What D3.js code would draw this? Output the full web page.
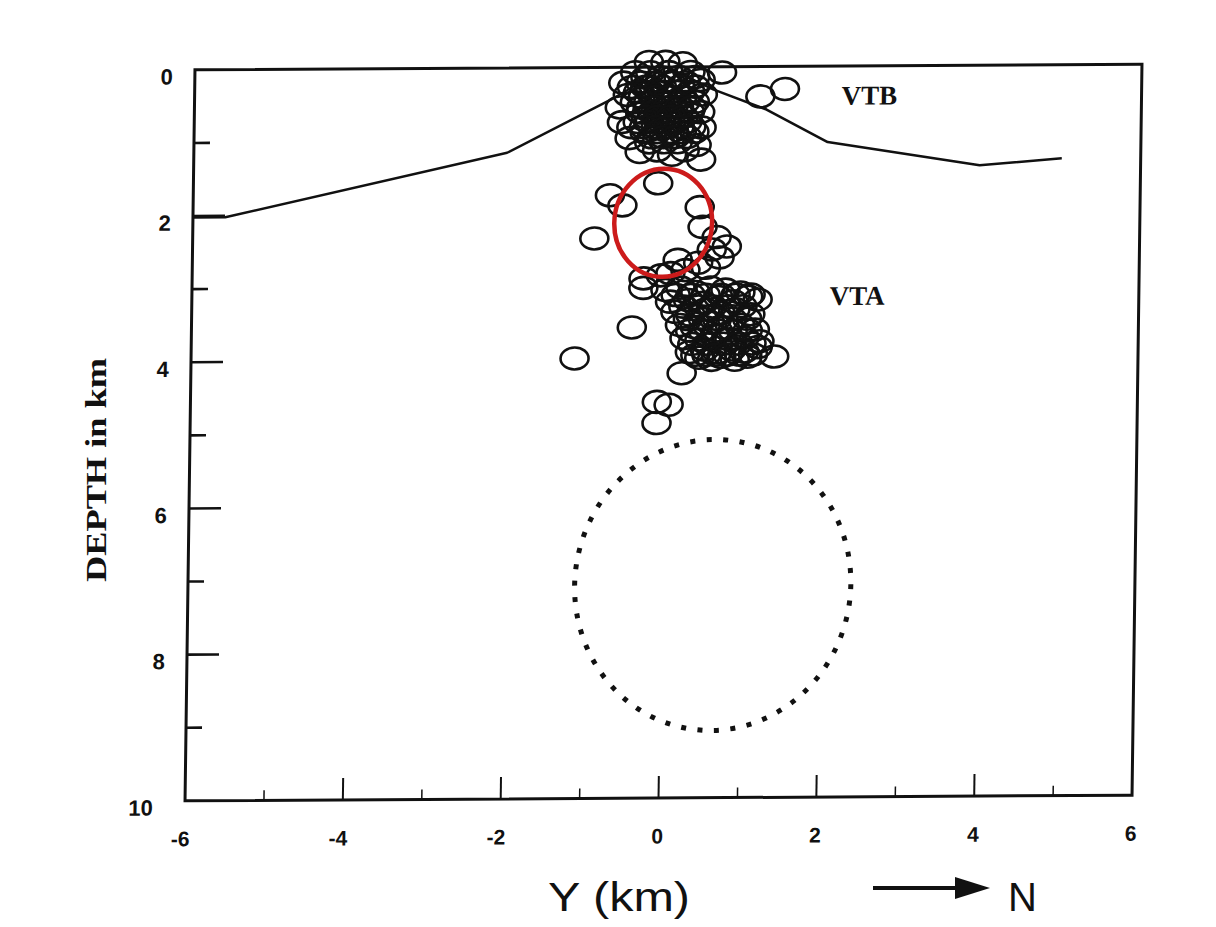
<!DOCTYPE html>
<html>
<head>
<meta charset="utf-8">
<script src="https://cdn.jsdelivr.net/npm/d3@7"></script>
<style>
  html, body { margin: 0; padding: 0; background: #ffffff; }
  svg { display: block; }
</style>
</head>
<body>
<svg id="chart" width="1216" height="927"></svg>
<script>
// ---------- data ----------
// Earthquake hypocentres: horizontal position Y (km) and depth (km)
const eventY = [
  // VTB cluster (shallow)
  -0.04,-0.25,0.18,-0.57,-0.61,-0.58,-0.35,0.06,0.37,0.43,0.41,0.44,0.41,0.68,1.17,1.48,
  -0.42,-0.51,0.43,-0.48,-0.13,0.22,
  -0.23,0.00,0.28,
  -0.35,-0.16,0.03,0.22,
  -0.38,-0.23,-0.08,0.09,0.28,
  -0.42,-0.25,-0.10,0.05,0.22,0.34,
  -0.35,-0.20,-0.04,0.13,0.28,
  -0.38,-0.23,-0.08,0.09,0.25,
  -0.29,-0.13,0.03,0.18,0.34,
  -0.23,-0.04,0.13,
  -0.29,-0.10,0.13,0.34,
  -0.46,-0.29,-0.08,0.15,0.34,
  -0.32,-0.15,0.00,0.18,
  -0.34,-0.16,-0.01,0.14,0.30,
  -0.28,-0.13,0.04,0.20,
  -0.46,-0.30,-0.15,0.00,0.15,0.30,
  -0.20,-0.05,0.10,0.25,
  // between clusters
  -0.11,-0.72,-0.56,-0.91,0.42,0.46,0.64,0.77,0.58,0.68,0.41,0.15,
  // VTA cluster (deeper)
  0.06,0.25,0.51,-0.06,-0.28,-0.28,
  0.00,0.19,0.38,0.57,0.76,0.95,
  0.06,0.29,0.48,0.67,0.86,1.05,1.17,
  0.13,0.32,0.51,0.70,0.89,1.08,
  0.19,0.38,0.57,0.76,0.95,1.14,
  0.25,0.44,0.63,0.82,1.01,1.20,
  0.32,0.51,0.67,0.85,1.01,1.18,
  0.44,0.60,0.72,0.89,1.05,
  0.13,0.32,0.51,0.70,0.89,1.08,
  0.23,0.42,0.60,0.79,0.98,
  0.29,0.48,0.66,0.85,1.04,
  0.32,0.48,0.67,0.86,1.05,
  0.35,0.54,0.74,0.93,1.10,
  0.39,0.53,0.65,0.80,0.95,1.12,
  -0.42,-1.14,1.39,0.22,
  -0.09,0.06,-0.09
];
const eventDepth = [
  -0.07,-0.07,-0.05,0.21,0.55,0.75,1.16,1.20,1.07,1.27,0.18,0.38,0.62,0.08,0.41,0.31,
  0.07,0.38,0.83,0.97,1.14,1.14,
  0.07,0.07,0.07,
  0.21,0.21,0.21,0.21,
  0.34,0.34,0.34,0.34,0.34,
  0.48,0.48,0.48,0.48,0.48,0.48,
  0.62,0.62,0.62,0.62,0.62,
  0.75,0.75,0.75,0.75,0.75,
  0.89,0.89,0.89,0.89,0.89,
  1.03,1.03,1.03,
  0.14,0.14,0.14,0.14,
  0.27,0.27,0.27,0.27,0.27,
  0.41,0.41,0.41,0.41,
  0.55,0.55,0.55,0.55,0.55,
  0.68,0.68,0.68,0.68,
  0.82,0.82,0.82,0.82,0.82,0.82,
  0.96,0.96,0.96,0.96,
  1.59,1.75,1.89,2.34,1.92,2.19,2.33,2.46,2.50,2.61,2.68,2.64,
  2.82,2.78,2.75,2.85,2.89,3.02,
  3.05,3.02,3.08,3.02,3.05,3.09,
  3.21,3.19,3.23,3.15,3.21,3.15,3.19,
  3.35,3.39,3.32,3.37,3.32,3.39,
  3.53,3.56,3.50,3.57,3.53,3.60,
  3.71,3.73,3.68,3.73,3.71,3.76,
  3.90,3.87,3.91,3.87,3.90,3.84,
  3.98,4.01,3.97,4.01,3.97,
  3.12,3.12,3.12,3.12,3.12,3.12,
  3.28,3.28,3.28,3.28,3.28,
  3.45,3.45,3.45,3.45,3.45,
  3.61,3.61,3.61,3.61,3.61,
  3.79,3.79,3.79,3.79,3.79,
  3.94,3.94,3.94,3.94,3.94,3.94,
  3.56,3.98,3.97,4.19,
  4.58,4.62,4.87
];
// Topographic profile
const topoY     = [-6.00,-5.59,-2.03,-0.67,-0.02,0.57,1.25,2.03,3.96,5.00];
const topoDepth = [ 2.02, 2.02, 1.16, 0.41, 0.00,0.31,0.59,1.04,1.37,1.28];
// Red highlight circle and dotted (source) circle: centre Y, depth, radius Y, radius depth
const redCircle    = [-0.04, 2.13, 0.62, 0.74];
const dottedCircle = [ 0.65, 7.09, 1.75, 1.99];
// Axes
const xTicks = [-6,-4,-2,0,2,4,6];
const xMinor = [-5,-3,-1,1,3,5];
const yTicks = [0,2,4,6,8,10];
const yMajorInner = [2,4,6,8];
const yMinor = [1,3,5,7,9];
const labels = [{t:"VTB", y:2.55, d:0.53}, {t:"VTA", y:2.43, d:3.27}];

// ---------- drawing ----------
const svg = d3.select("#chart");
const L = 190, R = 1137, T = 67, B = 798;
const x = d3.scaleLinear().domain([-6, 6]).range([L, R]);
const y = d3.scaleLinear().domain([0, 10]).range([T, B]);

// the scanned figure is slightly sheared
const cx0 = (L + R) / 2, cy0 = (T + B) / 2;
const c = -0.0136, b = -0.006;
const g = svg.append("g")
  .attr("transform", `matrix(1,${b},${c},1,${-c * cy0},${-b * cx0})`);

const ink = "#111";

// topography
const line = d3.line().x((d, i) => x(topoY[i])).y((d, i) => y(topoDepth[i]));
g.append("path").datum(topoY).attr("d", line)
  .attr("fill", "none").attr("stroke", ink).attr("stroke-width", 2.5)
  .attr("stroke-linejoin", "round");

// frame
g.append("rect").attr("x", L).attr("y", T).attr("width", R - L).attr("height", B - T)
  .attr("fill", "none").attr("stroke", ink).attr("stroke-width", 3);

// x ticks (inside, from bottom)
g.selectAll(".xt").data(xTicks.slice(1, -1)).join("line")
  .attr("x1", d => x(d)).attr("x2", d => x(d))
  .attr("y1", B).attr("y2", B - 22).attr("stroke", ink).attr("stroke-width", 2);
g.selectAll(".xm").data(xMinor).join("line")
  .attr("x1", d => x(d)).attr("x2", d => x(d))
  .attr("y1", B).attr("y2", B - 10).attr("stroke", ink).attr("stroke-width", 1.5);
// y ticks (inside, from left)
g.selectAll(".yt").data(yMajorInner).join("line")
  .attr("x1", L).attr("x2", L + 32)
  .attr("y1", d => y(d)).attr("y2", d => y(d)).attr("stroke", ink).attr("stroke-width", 2.6);
g.selectAll(".ym").data(yMinor).join("line")
  .attr("x1", L).attr("x2", L + 16)
  .attr("y1", d => y(d)).attr("y2", d => y(d)).attr("stroke", ink).attr("stroke-width", 2.6);

// tick labels
const tickFont = "'Liberation Sans', Arial, sans-serif";
g.selectAll(".xl").data(xTicks).join("text")
  .attr("x", d => x(d) + 5).attr("y", B + 38)
  .attr("text-anchor", "end").attr("dominant-baseline", "central")
  .attr("font-family", tickFont).attr("font-weight", "bold").attr("font-size", 21)
  .attr("fill", ink).text(d => d < 0 ? "-" + Math.abs(d) : String(d));
g.selectAll(".yl").data(yTicks).join("text")
  .attr("x", d => L - (d === 10 ? 32 : 22)).attr("y", d => y(d) + 7)
  .attr("text-anchor", "end").attr("dominant-baseline", "central")
  .attr("font-family", tickFont).attr("font-weight", "bold").attr("font-size", 22)
  .attr("fill", ink).text(d => String(d));

// events
g.selectAll(".ev").data(eventY).join("ellipse")
  .attr("cx", (d, i) => x(d)).attr("cy", (d, i) => y(eventDepth[i]))
  .attr("rx", 14).attr("ry", 11)
  .attr("fill", "none").attr("stroke", ink).attr("stroke-width", 2.6);

// dotted circle
g.append("ellipse")
  .attr("cx", x(dottedCircle[0])).attr("cy", y(dottedCircle[1]))
  .attr("rx", x(dottedCircle[2]) - x(0)).attr("ry", y(dottedCircle[3]) - y(0))
  .attr("fill", "none").attr("stroke", ink).attr("stroke-width", 5)
  .attr("stroke-dasharray", "5 11.5");

// red circle
g.append("ellipse")
  .attr("cx", x(redCircle[0])).attr("cy", y(redCircle[1]))
  .attr("rx", x(redCircle[2]) - x(0)).attr("ry", y(redCircle[3]) - y(0))
  .attr("fill", "none").attr("stroke", "#cc1b1b").attr("stroke-width", 4.5);

// cluster labels
g.selectAll(".cl").data(labels).join("text")
  .attr("x", d => x(d.y)).attr("y", d => y(d.d))
  .attr("text-anchor", "middle")
  .attr("font-family", "'Liberation Serif', 'Times New Roman', serif")
  .attr("font-weight", "bold").attr("font-size", 27).attr("fill", ink)
  .text(d => d.t);

// axis titles
svg.append("text")
  .attr("transform", "translate(106,470) rotate(-90)")
  .attr("text-anchor", "middle")
  .attr("font-family", "'Liberation Serif', 'Times New Roman', serif")
  .attr("font-weight", "bold").attr("font-size", 30).attr("fill", ink)
  .attr("textLength", 224).attr("lengthAdjust", "spacingAndGlyphs")
  .text("DEPTH in km");

svg.append("text")
  .attr("x", 548).attr("y", 911)
  .attr("font-family", "'Liberation Sans', Arial, sans-serif")
  .attr("font-size", 40).attr("fill", ink)
  .attr("textLength", 142).attr("lengthAdjust", "spacingAndGlyphs")
  .text("Y (km)");

// north arrow
svg.append("line").attr("x1", 873).attr("x2", 962).attr("y1", 888).attr("y2", 888)
  .attr("stroke", ink).attr("stroke-width", 4);
svg.append("path").attr("d", "M955,877 L990,888 L955,899 Z").attr("fill", ink);
svg.append("text")
  .attr("x", 1008).attr("y", 911)
  .attr("font-family", "'Liberation Sans', Arial, sans-serif")
  .attr("font-size", 40).attr("fill", ink)
  .text("N");
</script>
</body>
</html>
